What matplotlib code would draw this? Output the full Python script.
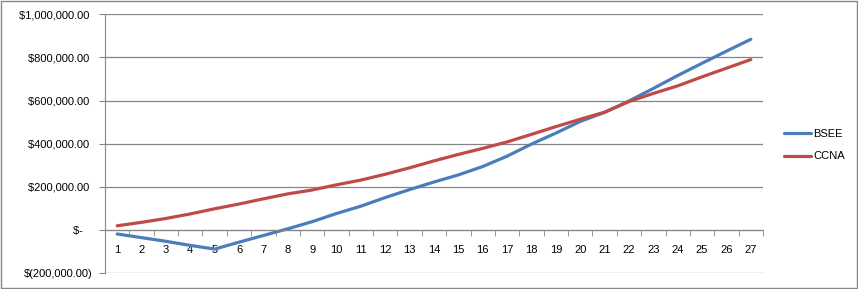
#Cumulative earnings: BSEE vs CCNA
import numpy as np
import matplotlib.pyplot as plt
from matplotlib.patches import Rectangle
from matplotlib.ticker import FuncFormatter

plt.rcParams['font.family'] = ['Liberation Sans', 'DejaVu Sans']
plt.rcParams['font.size'] = 8

#Values (dollars)
years = list(range(1, 28))
bsee = [-19000, -36000, -53000, -72000, -89000, -57000, -26000, 5000, 38000,
        76000, 110000, 150000, 187000, 222000, 255000, 294000, 342000, 398000,
        449000, 503000, 545000, 598000, 656000, 716000, 773000, 829000, 884000]
ccna = [19000, 35000, 53000, 74000, 98000, 120000, 144000, 167000, 185000,
        209000, 231000, 258000, 288000, 320000, 350000, 378000, 408000, 443000,
        479000, 513000, 546000, 595000, 633000, 668000, 710000, 750000, 790000]
y_ticks = [-200000, 0, 200000, 400000, 600000, 800000, 1000000]

def money(v, pos=None):
    if v == 0:
        return '$-   '
    if v < 0:
        return '$({:,.2f})'.format(-v)
    return '${:,.2f} '.format(v)

fig = plt.figure(figsize=(8.58, 2.89), dpi=100)
ax = fig.add_axes([105/858, 16/289, 658/858, (273-14.3)/289])

grid_c = '#868686'
ax.plot(years, bsee, color='#4A7EBB', lw=2.3, label='BSEE', solid_capstyle='round')
ax.plot(years, ccna, color='#BE4B48', lw=2.3, label='CCNA', solid_capstyle='round')

ax.set_xlim(0.5, 27.5)
ax.set_ylim(-200000, 1000000)
ax.set_yticks(y_ticks)
ax.yaxis.set_major_formatter(FuncFormatter(money))
ax.grid(axis='y', color=grid_c, lw=0.9)
ax.set_axisbelow(True)

#category axis crosses at zero
ax.set_xticks(years)
ax.set_xticks(np.arange(0.5, 28, 1), minor=True)
ax.tick_params(axis='x', which='major', length=0, pad=11, labelsize=8)
ax.tick_params(axis='x', which='minor', length=4, color=grid_c, direction='out')
ax.tick_params(axis='y', length=4.5, color=grid_c, pad=4.5, labelsize=8)
ax.spines['bottom'].set_position(('data', 0))
ax.spines['bottom'].set_color(grid_c)
ax.spines['left'].set_color(grid_c)
ax.spines['top'].set_visible(False)
ax.spines['right'].set_visible(False)

fig.legend(loc='center left', bbox_to_anchor=(784/858, 1 - 145/289), frameon=False,
           fontsize=8, handlelength=2.4, handletextpad=0.25, labelspacing=1.15,
           borderpad=0, borderaxespad=0)

fig.patches.append(Rectangle((0.5/858, 1/289), 856/858, 287/289, transform=fig.transFigure,
                             fill=False, edgecolor='#868686', lw=1))

plt.savefig('out.png', dpi=100)
